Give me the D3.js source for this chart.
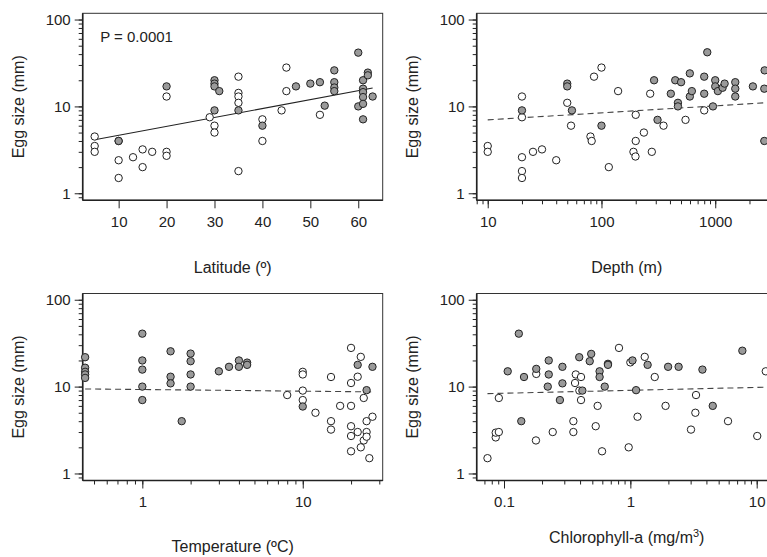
<!DOCTYPE html>
<html>
<head>
<meta charset="utf-8">
<script src="https://cdn.jsdelivr.net/npm/d3@7"></script>
<style>
  body { margin: 0; background: #fff; }
  svg { display: block; font-family: "Liberation Sans", Arial, sans-serif; }
</style>
</head>
<body>
<svg id="chart" width="767" height="557"></svg>
<script>
// data: [x, egg size (mm)]
const latitudeOpen = [[5,4.5],[5,3.5],[5,3.0],[10,2.4],[10,1.5],[10,4.0],[13,2.6],[15,3.2],[15,2.0],[17,3.0],
  [20,3.0],[20,2.7],[20,13],[29,7.5],[30,6.0],[30,5.0],[35,22],[35,14.3],[35,13],[35,11],[35,1.8],
  [40,7.1],[40,4.0],[44,9.0],[45,28],[45,15],[52,8.0]];
const latitudeFilled = [[10,4.0],[20,17],[30,20],[30,18.3],[30,17],[31,15],[30,9],[35,9],[40,6],[47,17],
  [50,18.3],[52,19],[53,10.2],[55,26],[55,19],[55,16.5],[55,15],[60,41.6],[60,10],[61,20],[61,16],
  [61,14.6],[61,12.8],[61,10.7],[61,7.1],[62,24.5],[62,22.8],[63,13]];

const depthOpen = [[10,3.5],[10,3.0],[20,13],[20,7.5],[20,2.6],[20,1.8],[20,1.5],[25,3.0],[30,3.2],[40,2.4],
  [50,11],[54,6.0],[80,4.5],[82,4.0],[86,22],[100,28],[116,2.0],[140,15],[191,3.0],[199,2.65],[200,8.0],
  [200,4.0],[236,5.0],[268,14],[277,3.0],[351,6.0],[548,7.0],[800,9.0]];
const depthFilled = [[20,9],[50,18.3],[50,17],[55,9],[100,6],[290,20],[311,7],[407,14],[445,20],[470,11],
  [470,10],[501,19],[598,24],[598,13],[623,15],[800,22],[800,14],[851,42],[955,10],[1000,20],[1000,17],
  [1055,15],[1161,16.4],[1209,18.3],[1500,19],[1500,16],[1500,13],[2143,17],[2718,26],[2700,16],[2700,4.0]];

const temperatureOpen = [[8,8],[10,14.8],[10,13.8],[10,9],[10,7],[12,5],[15,12.9],[15,4],[15,3.2],[17.1,6],
  [20,27.9],[20,11],[20,6],[20,3.5],[20,2.7],[20,1.8],[22,13],[22,3],[23,22],[23,2],[24,7.4],[24,2.4],
  [25,4],[25,3],[25,2.65],[26,1.5],[27.2,4.5]];
const temperatureFilled = [[0.44,21.8],[0.44,16.5],[0.44,14.8],[0.44,13.8],[0.44,12.6],[1,40.7],[1,20],
  [1,15.7],[1,10],[1,7],[1.5,25.5],[1.5,13],[1.5,10.9],[1.76,4.0],[2,24],[2,19.6],[2,13.8],[2,10],[3,15],
  [3.47,16.9],[4,20],[4,16.9],[4.5,18.9],[4.5,17.8],[10,5.9],[22,17.8],[25,9.1],[27.2,16.9]];

const chlorophyllOpen = [[0.074,1.5],[0.086,2.6],[0.086,2.95],[0.091,3.0],[0.091,7.4],[0.179,2.4],[0.18,14],
  [0.243,3.0],[0.354,4.0],[0.354,3.0],[0.365,11],[0.37,13.8],[0.407,12.9],[0.407,7.0],[0.395,9],[0.532,3.5],
  [0.551,6.0],[0.597,1.8],[0.813,27.9],[0.97,2.0],[1.0,19],[1.14,4.5],[1.3,22],[1.56,12.9],[1.9,6.0],
  [3.02,3.2],[3.27,5.0],[3.31,8.0],[5.93,4.0],[10.1,2.7],[11.8,15]];
const chlorophyllFilled = [[0.107,15],[0.131,40.7],[0.137,4.0],[0.144,12.9],[0.18,16],[0.226,20],[0.226,13.8],
  [0.222,10],[0.277,7.0],[0.29,16.9],[0.29,10.9],[0.394,21.8],[0.417,9],[0.477,19.6],[0.49,23.8],[0.571,15],
  [0.571,12.9],[0.627,10],[0.665,18.3],[0.665,17.8],[1.04,20],[1.11,9.1],[1.37,17.8],[1.99,16.9],
  [2.41,16.9],[3.72,15.7],[4.49,6.0],[7.7,25.9]];

// fitted lines (end points)
const latitudeTrend = [[5,4.13],[63,16.3]];
const depthTrend = [[10,7.0],[2718,11.0]];
const temperatureTrend = [[0.44,9.4],[27.2,8.7]];
const chlorophyllTrend = [[0.074,8.3],[11.8,9.85]];

// tick labels
const eggTicks = [1, 10, 100];
const latitudeTicks = [10, 20, 30, 40, 50, 60];
const depthTicks = [10, 100, 1000];
const temperatureTicks = [1, 10];
const chlorophyllTicks = [0.1, 1, 10];

const svg = d3.select('#chart');
const pw = 300, ph = 187;
const fs = 15;

// minor ticks for a log axis: 2..9 times each decade inside the domain
const logMinor = (domain) => {
  const out = [];
  for (let e = -3; e <= 4; e++) {
    for (let m = 1; m <= 9; m++) {
      const v = m * Math.pow(10, e);
      if (v >= domain[0] && v <= domain[1]) out.push(v);
    }
  }
  return out;
};

const yDomain = [0.83, 118];

const drawPanel = (o) => {
  const g = svg.append('g').attr('transform', `translate(${o.left},${o.top})`);
  const x = o.log ? d3.scaleLog().domain(o.xDomain).range([0, pw])
                  : d3.scaleLinear().domain(o.xDomain).range([0, pw]);
  const y = d3.scaleLog().domain(yDomain).range([ph, 0]);

  // box
  g.append('rect').attr('width', pw).attr('height', ph)
    .attr('fill', 'none').attr('stroke', '#333').attr('stroke-width', 1);

  // y axis: minor then major
  g.append('g').call(d3.axisLeft(y).tickValues(logMinor(yDomain)).tickSize(4).tickFormat(''))
    .call(a => a.select('.domain').remove());
  const ya = g.append('g').call(d3.axisLeft(y).tickValues(eggTicks).tickSize(8).tickPadding(4)
    .tickFormat(d3.format('d')));
  ya.select('.domain').attr('stroke', '#222').attr('stroke-width', 1.6).attr('d', `M0,0V${ph}`);

  // x axis
  const xg = g.append('g').attr('transform', `translate(0,${ph})`);
  if (o.log) {
    xg.append('g').call(d3.axisBottom(x).tickValues(logMinor(o.xDomain)).tickSize(4).tickFormat(''))
      .call(a => a.select('.domain').remove());
  }
  const xa = xg.append('g').call(d3.axisBottom(x).tickValues(o.ticks).tickSize(8).tickPadding(8)
    .tickFormat(d => String(d)));
  xa.select('.domain').attr('stroke', '#222').attr('stroke-width', 1.6).attr('d', `M0,0H${pw}`);

  g.selectAll('.tick line').attr('stroke', '#222');
  g.selectAll('.tick text').attr('fill', '#222').style('font-size', fs + 'px')
    .style('font-family', '"Liberation Sans", Arial, sans-serif');

  // axis titles
  g.append('text')
    .attr('transform', `translate(${-64.5},${ph / 2}) rotate(-90)`)
    .attr('text-anchor', 'middle').attr('dy', '0.35em')
    .attr('fill', '#222').style('font-size', '16px')
    .text('Egg size (mm)');
  const xt = g.append('text')
    .attr('x', pw / 2).attr('y', ph + o.titleY)
    .attr('text-anchor', 'middle').attr('fill', '#222').style('font-size', '16px');
  if (o.sup) {
    xt.append('tspan').text(o.title);
    xt.append('tspan').attr('dy', '-6').style('font-size', '11px').text(o.sup);
    xt.append('tspan').attr('dy', '6').text(')');
  } else {
    xt.text(o.title);
  }

  // trend line
  g.append('path')
    .datum(o.trend)
    .attr('d', d3.line().x(d => x(d[0])).y(d => y(d[1])))
    .attr('fill', 'none').attr('stroke', o.dashed ? '#444' : '#222')
    .attr('stroke-width', 1.1)
    .attr('stroke-dasharray', o.dashed ? '6,4' : null);

  // points: open first, filled on top
  g.selectAll('circle.open').data(o.open).enter().append('circle')
    .attr('class', 'open')
    .attr('cx', d => x(d[0])).attr('cy', d => y(d[1])).attr('r', 3.7)
    .attr('fill', '#fff').attr('stroke', '#222').attr('stroke-width', 1);
  g.selectAll('circle.filled').data(o.filled).enter().append('circle')
    .attr('class', 'filled')
    .attr('cx', d => x(d[0])).attr('cy', d => y(d[1])).attr('r', 3.7)
    .attr('fill', '#9a9a9a').attr('stroke', '#222').attr('stroke-width', 1);

  if (o.note) {
    g.append('text').attr('x', 17.5).attr('y', 29)
      .attr('fill', '#222').style('font-size', fs + 'px').text(o.note);
  }
};

drawPanel({ left: 82.7, top: 13.3, xDomain: [2.5, 65.1], log: false, ticks: latitudeTicks,
  title: 'Latitude (º)', titleY: 72.5, trend: latitudeTrend, dashed: false,
  open: latitudeOpen, filled: latitudeFilled, note: 'P = 0.0001' });
drawPanel({ left: 476.7, top: 13.3, xDomain: [8.0, 3470], log: true, ticks: depthTicks,
  title: 'Depth (m)', titleY: 72.5, trend: depthTrend, dashed: true,
  open: depthOpen, filled: depthFilled });
drawPanel({ left: 82.7, top: 293.5, xDomain: [0.425, 31.5], log: true, ticks: temperatureTicks,
  title: 'Temperature (ºC)', titleY: 71, trend: temperatureTrend, dashed: true,
  open: temperatureOpen, filled: temperatureFilled });
drawPanel({ left: 476.7, top: 293.5, xDomain: [0.0608, 14.4], log: true, ticks: chlorophyllTicks,
  title: 'Chlorophyll-a (mg/m', sup: '3', titleY: 62.5, trend: chlorophyllTrend, dashed: true,
  open: chlorophyllOpen, filled: chlorophyllFilled });
</script>
</body>
</html>
